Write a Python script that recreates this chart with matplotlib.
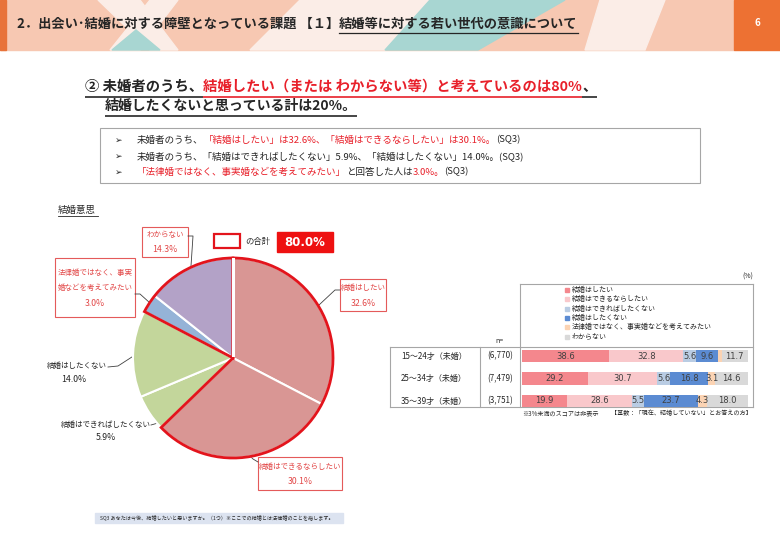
import matplotlib
matplotlib.use('Agg')
import matplotlib.pyplot as plt
from matplotlib.patches import Rectangle, Polygon, Wedge

plt.rcParams['font.family'] = ['Noto Sans CJK JP', 'DejaVu Sans']

# ---------------- data ----------------
pie_labels = ['結婚はしたい', '結婚はできるならしたい', '結婚はできればしたくない',
              '結婚はしたくない', '法律婚ではなく、事実婚などを考えてみたい', 'わからない']
pie_values = [32.6, 30.1, 5.9, 14.0, 3.0, 14.3]
pie_colors = ['#D99694', '#D99694', '#C3D69B', '#C3D69B', '#95B3D7', '#B3A2C7']
pie_group = [0, 1, 4, 5]          # slices in the "合計 80%" group

bar_groups = ['15～24才（未婚）', '25～34才（未婚）', '35～39才（未婚）']
bar_n = ['(6,770)', '(7,479)', '(3,751)']
bar_series = ['結婚はしたい', '結婚はできるならしたい', '結婚はできればしたくない',
              '結婚はしたくない', '法律婚ではなく、事実婚などを考えてみたい', 'わからない']
want = [38.6, 29.2, 19.9]
want_if_possible = [32.8, 30.7, 28.6]
rather_not = [5.6, 5.6, 5.5]
not_want = [9.6, 16.8, 23.7]
de_facto = [1.7, 3.1, 4.3]
dont_know = [11.7, 14.6, 18.0]
bar_colors = ['#F4878D', '#F9C8CB', '#B9CCE3', '#5B8BD2', '#FBD3B3', '#D9D9D9']

# ---------------- figure ----------------
W, H = 780, 538
fig = plt.figure(figsize=(W / 100, H / 100), dpi=100)
ax = fig.add_axes([0, 0, 1, 1])
ax.set_xlim(0, W)
ax.set_ylim(H, 0)
ax.axis('off')
R = fig.canvas.get_renderer()

BLACK = '#262626'
RED = '#E8202A'
LRED = '#E24848'
BRED = '#E45A5A'


def rich(x, y, parts, width=None, size=10, weight='normal', underline=False, ul_off=9, ul_lw=1.0):
    if width is not None:
        tot = 0
        for s, c in parts:
            t = ax.text(0, 0, s, fontsize=10, fontweight=weight)
            tot += t.get_window_extent(R).width
            t.remove()
        size = 10 * width / tot
    cx = x
    for s, c in parts:
        t = ax.text(cx, y, s, color=c, fontsize=size, fontweight=weight, va='center', ha='left')
        w = t.get_window_extent(R).width
        if underline:
            ax.plot([cx, cx + w], [y + ul_off, y + ul_off], color=c, lw=ul_lw, solid_capstyle='butt')
        cx += w
    return cx, size


# ---------------- header ----------------
ax.add_patch(Rectangle((0, 0), 734, 50, color='#F7C8B2', zorder=0))
cream = '#FBEDE7'
teal = '#A8D6D2'
ax.add_patch(Polygon([(98, 0), (140, 0), (178, 50), (150, 50)], color=cream, zorder=0))
ax.add_patch(Polygon([(150, 0), (178, 0), (140, 50), (110, 50)], color=cream, zorder=0))
ax.add_patch(Polygon([(112, 50), (160, 50), (136, 30)], color=teal, zorder=0))
ax.add_patch(Polygon([(300, 0), (430, 0), (385, 50), (250, 50)], color=cream, zorder=0))
ax.add_patch(Polygon([(430, 0), (565, 0), (478, 50), (385, 50)], color=teal, zorder=0))
ax.add_patch(Polygon([(600, 0), (665, 0), (645, 50), (585, 50)], color=cream, zorder=0))
ax.add_patch(Rectangle((0, 0), 6, 50, color='#E8733A', zorder=0))
ax.add_patch(Rectangle((734, 0), 46, 50, color='#ED7133', zorder=0))
ax.text(757, 23, '6', color='white', fontsize=7, fontweight='bold', ha='center', va='center')

hdr_a = '2．出会い･結婚に対する障壁となっている課題 【１】'
hdr_b = '結婚等に対する若い世代の意識について'
x_end, hs = rich(17, 24, [(hdr_a, BLACK), (hdr_b, BLACK)], width=561, weight='bold')
tb = ax.text(0, 0, hdr_b, fontsize=hs, fontweight='bold')
wb = tb.get_window_extent(R).width
tb.remove()
ax.plot([x_end - wb, x_end], [33, 33], color=BLACK, lw=0.9)

# ---------------- subtitle ----------------
group_total = sum(pie_values[i] for i in pie_group)
rest_total = 100 - group_total
rich(85, 87, [('② 未婚者のうち、', BLACK),
              (f'結婚したい（または わからない等）と考えているのは{group_total:.0f}%', RED),
              ('、', BLACK)], width=510, weight='bold', underline=True, ul_off=10, ul_lw=1.2)
rich(105, 106, [(f'結婚したくないと思っている計は{rest_total:.0f}%。', BLACK)],
     width=253, weight='bold', underline=True, ul_off=10, ul_lw=1.2)

# ---------------- summary box ----------------
ax.add_patch(Rectangle((100, 128), 600, 55, fill=False, edgecolor='#A6A6A6', lw=0.8))
line_y = [140, 156.5, 172]
for yy in line_y:
    ax.text(115, yy, '➢', fontsize=6.5, color=BLACK, va='center', ha='left', family='DejaVu Sans')
_, bs = rich(137, line_y[0], [('未婚者のうち、', BLACK),
                              (f'「{pie_labels[0]}」は{pie_values[0]}%、「{pie_labels[1]}」は{pie_values[1]}%。', RED),
                              ('(SQ3)', BLACK)], width=385)
rich(137, line_y[1], [(f'未婚者のうち、「{pie_labels[2]}」{pie_values[2]}%、「{pie_labels[3]}」{pie_values[3]}%。(SQ3)', BLACK)],
     size=bs)
rich(137, line_y[2], [(f'「{pie_labels[4]}」', RED), ('と回答した人は', BLACK),
                      (f'{pie_values[4]}%。', RED), ('(SQ3)', BLACK)], size=bs)

# ---------------- pie ----------------
ax.text(58, 210, '結婚意思', fontsize=6.8, color=BLACK, va='center', ha='left')
ax.plot([58, 98], [215.5, 215.5], color=BLACK, lw=0.6)

cx, cy, rad = 233, 358, 100
pax = fig.add_axes([(cx - 1.1 * rad) / W, (H - cy - 1.1 * rad) / H, 2.2 * rad / W, 2.2 * rad / H])
wedges, _ = pax.pie(pie_values, colors=pie_colors, startangle=90, counterclock=False, radius=1,
                    wedgeprops=dict(edgecolor='white', linewidth=1.5))
pax.set_xlim(-1.1, 1.1)
pax.set_ylim(-1.1, 1.1)
pax.set_aspect('auto')
pax.axis('off')
pax.patch.set_alpha(0)
for grp in ([0, 1], [4, 5]):
    t1 = min(wedges[i].theta1 for i in grp)
    t2 = max(wedges[i].theta2 for i in grp)
    pax.add_patch(Wedge((0, 0), 1, t1, t2, fill=False, edgecolor='#E3141C', lw=2.0,
                        joinstyle='miter', clip_on=False, zorder=5))
pax.plot([0, 0], [0.03, 0.99], color='white', lw=2.2, zorder=6)

# legend for the group
ax.add_patch(Rectangle((214, 234), 26, 14, facecolor='white', edgecolor='#E3141C', lw=1.6))
ax.text(245, 241.5, 'の合計', fontsize=6, color=BLACK, va='center', ha='left')
ax.add_patch(Rectangle((277, 232), 56, 20, color='#EE1111'))
ax.text(305, 242, f'{group_total:.1f}%', fontsize=8.5, color='white', fontweight='bold',
        va='center', ha='center', family='DejaVu Sans')

LS = 5.4
NS = 6.3


def label_box(x0, y0, x1, y1, lines, ys, xc):
    ax.add_patch(Rectangle((x0, y0), x1 - x0, y1 - y0, fill=False, edgecolor=BRED, lw=0.8))
    for k, (s, yy) in enumerate(zip(lines, ys)):
        ax.text(xc, yy, s, fontsize=NS if k == len(lines) - 1 else LS, color=LRED,
                ha='center', va='center')


def leader(pts):
    ax.plot([p[0] for p in pts], [p[1] for p in pts], color='#404040', lw=0.6)


label_box(142, 227, 188, 257, [pie_labels[5], f'{pie_values[5]}%'], [235, 249], 165)
leader([(188, 236), (193, 236), (191, 266)])
label_box(55, 258, 135, 317, ['法律婚ではなく、事実', '婚などを考えてみたい', f'{pie_values[4]}%'],
          [273, 288, 303], 95)
leader([(135, 294), (140, 294), (150, 303)])
label_box(340, 279, 386, 311, [pie_labels[0], f'{pie_values[0]}%'], [288, 303], 363)
leader([(340, 290), (335, 290), (319, 305)])
label_box(258, 457, 342, 490, [pie_labels[1], f'{pie_values[1]}%'], [467, 482], 300)
leader([(258, 462), (253, 459), (248, 454)])
ax.text(77, 366, pie_labels[3], fontsize=LS, color=BLACK, ha='center', va='center')
ax.text(74, 380, f'{pie_values[3]}%', fontsize=NS, color=BLACK, ha='center', va='center')
leader([(108, 367), (118, 366), (135, 355)])
ax.text(106, 425, pie_labels[2], fontsize=LS, color=BLACK, ha='center', va='center')
ax.text(106, 438, f'{pie_values[2]}%', fontsize=NS, color=BLACK, ha='center', va='center')
leader([(151, 425), (158, 423)])

# question footer
ax.add_patch(Rectangle((95, 513), 248, 10, color='#DCE3F0'))
rich(100, 518, [('SQ3 あなたは今後、結婚したいと思いますか。（1つ）※ここでの結婚とは法律婚のことを指します。', BLACK)],
     width=232)

# ---------------- stacked bar chart ----------------
gray = '#A6A6A6'
ax.plot([390, 753], [347, 347], color=gray, lw=0.8)
ax.plot([390, 753], [407, 407], color=gray, lw=0.8)
ax.plot([520, 753], [284, 284], color=gray, lw=0.8)
ax.plot([753, 753], [284, 407], color=gray, lw=0.8)
ax.plot([520, 520], [284, 407], color=gray, lw=0.8)
ax.plot([390, 390], [347, 407], color=gray, lw=0.8)
ax.plot([480, 480], [347, 407], color=gray, lw=0.8)
ax.text(748, 277, '(%)', fontsize=5, color=BLACK, ha='center', va='center')
ax.text(499, 341, 'n=', fontsize=5, color=BLACK, ha='center', va='center')

for i, s in enumerate(bar_series):
    yy = 290 + 9.3 * i
    ax.add_patch(Rectangle((565, yy - 2), 4, 4, color=bar_colors[i]))
    ax.text(572, yy, s, fontsize=5, color=BLACK, ha='left', va='center')

bax = fig.add_axes([522 / W, (H - 412) / H, 226 / W, 67 / H])
bax.set_xlim(0, 100)
bax.set_ylim(2.5, -0.5)
bax.axis('off')
bax.patch.set_alpha(0)
series_vals = [want, want_if_possible, rather_not, not_want, de_facto, dont_know]
ypos = list(range(len(bar_groups)))
left = [0.0] * len(bar_groups)
for vals, col in zip(series_vals, bar_colors):
    bax.barh(ypos, vals, left=left, height=0.56, color=col, edgecolor='none')
    for j, v in enumerate(vals):
        if v >= 3:
            bax.text(left[j] + v / 2, j, f'{v:.1f}', fontsize=6, color='#404040',
                     ha='center', va='center', family='DejaVu Sans')
    left = [l + v for l, v in zip(left, vals)]

row_y = [356, 378.5, 401]
for g, n, yy in zip(bar_groups, bar_n, row_y):
    ax.text(434, yy, g, fontsize=5.8, color=BLACK, ha='center', va='center')
    ax.text(500, yy, n, fontsize=5.8, color=BLACK, ha='center', va='center')

ax.text(522, 413, '※3%未満のスコアは非表示', fontsize=4.4, color=BLACK, ha='left', va='center')
ax.text(752, 413, '【基数：「現在、結婚していない」とお答えの方】', fontsize=4.4, color=BLACK,
        ha='right', va='center')

fig.savefig('out.png', dpi=100)
